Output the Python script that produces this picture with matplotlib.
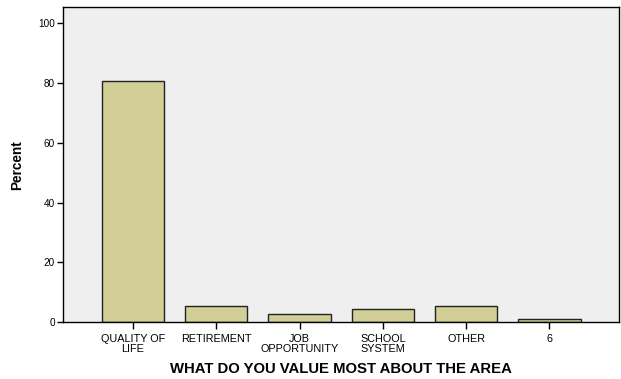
import matplotlib
matplotlib.use("Agg")
import matplotlib.pyplot as plt

categories = ["QUALITY OF\nLIFE", "RETIREMENT", "JOB\nOPPORTUNITY", "SCHOOL\nSYSTEM", "OTHER", "6"]
percent = [80.7, 5.6, 2.7, 4.5, 5.6, 1.1]
y_ticks = [0, 20, 40, 60, 80, 100]

plt.rcParams["font.family"] = ["Liberation Sans", "DejaVu Sans"]

fig = plt.figure(figsize=(6.21, 3.79), dpi=100)
ax = fig.add_axes([63.3 / 621, 1 - 322.3 / 379, (619.3 - 63.3) / 621, (322.3 - 7.3) / 379])
ax.set_facecolor("#efefef")

x = list(range(len(categories)))
ax.bar(x, percent, width=0.75, color="#d3ce98", edgecolor="#222222", linewidth=1.0, zorder=2)

ax.set_xlim(-0.837, 5.84)
ax.set_ylim(0, 105.3)
ax.set_yticks(y_ticks)
ax.set_xticks(x)
ax.set_xticklabels(categories, fontsize=7.8, linespacing=0.95)
ax.tick_params(axis="y", labelsize=7.2, length=4, width=1, pad=2)
ax.tick_params(axis="x", length=5, width=1, pad=3.5)

for s in ax.spines.values():
    s.set_linewidth(1.0)
    s.set_color("black")

ax.set_ylabel("Percent", fontsize=9.8, fontweight="bold", labelpad=10)
ax.set_xlabel("WHAT DO YOU VALUE MOST ABOUT THE AREA", fontsize=10.7, fontweight="bold", labelpad=6)

fig.savefig("out.png", dpi=100, facecolor="white")
